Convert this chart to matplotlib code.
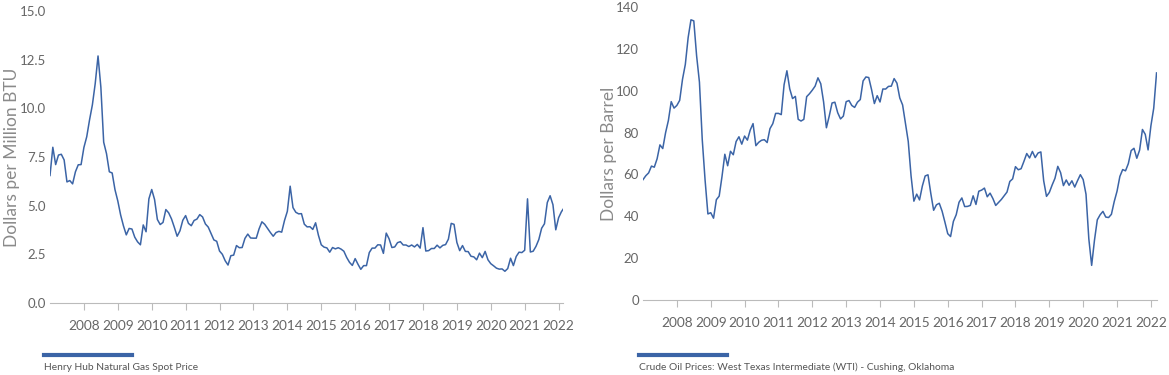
import numpy as np
import matplotlib
matplotlib.use("Agg")
import matplotlib.pyplot as plt

# Henry Hub, $/MMBtu, monthly Jan 2007 - Mar 2022
gas = [6.55, 8.00, 7.11, 7.60, 7.64, 7.35, 6.22, 6.29, 6.12, 6.74, 7.10, 7.11,
       7.99, 8.54, 9.41, 10.18, 11.27, 12.69, 11.09, 8.26, 7.67, 6.74, 6.68, 5.82,
       5.24, 4.52, 3.96, 3.50, 3.83, 3.80, 3.38, 3.14, 2.99, 4.01, 3.66, 5.35,
       5.83, 5.32, 4.29, 4.03, 4.14, 4.80, 4.63, 4.32, 3.89, 3.43, 3.71, 4.25,
       4.49, 4.09, 3.97, 4.24, 4.31, 4.54, 4.42, 4.06, 3.90, 3.57, 3.24, 3.17,
       2.67, 2.50, 2.17, 1.95, 2.43, 2.46, 2.95, 2.84, 2.85, 3.32, 3.54, 3.34,
       3.33, 3.33, 3.81, 4.17, 4.04, 3.83, 3.62, 3.43, 3.62, 3.68, 3.64, 4.24,
       4.71, 6.00, 4.90, 4.66, 4.58, 4.59, 4.05, 3.91, 3.92, 3.78, 4.12, 3.48,
       2.99, 2.87, 2.83, 2.61, 2.85, 2.78, 2.84, 2.77, 2.66, 2.34, 2.09, 1.93,
       2.28, 1.99, 1.73, 1.92, 1.92, 2.59, 2.82, 2.82, 2.99, 2.98, 2.55, 3.59,
       3.30, 2.85, 2.88, 3.10, 3.15, 2.98, 2.98, 2.90, 2.98, 2.88, 3.01, 2.82,
       3.87, 2.67, 2.69, 2.80, 2.80, 2.97, 2.83, 2.96, 3.00, 3.28, 4.09, 4.04,
       3.11, 2.69, 2.95, 2.65, 2.64, 2.40, 2.37, 2.22, 2.56, 2.33, 2.65, 2.22,
       2.02, 1.91, 1.79, 1.74, 1.75, 1.63, 1.77, 2.30, 1.92, 2.39, 2.61, 2.59,
       2.71, 5.35, 2.62, 2.66, 2.91, 3.26, 3.84, 4.07, 5.16, 5.51, 5.05, 3.76,
       4.38, 4.69, 4.90]

# WTI Cushing, $/barrel, monthly Jan 2007 - Mar 2022
oil = [57.5, 59.39, 60.74, 63.98, 63.46, 67.49, 74.12, 72.36, 79.92, 85.80, 94.77, 91.69,
       92.97, 95.39, 105.45, 112.58, 125.40, 133.88, 133.37, 116.67, 104.11, 76.61, 57.31, 41.12,
       41.71, 39.09, 47.94, 49.65, 59.03, 69.64, 64.15, 71.05, 69.41, 75.72, 77.99, 74.47,
       78.33, 76.39, 81.20, 84.29, 73.74, 75.34, 76.32, 76.60, 75.24, 81.89, 84.25, 89.15,
       89.17, 88.58, 102.86, 109.53, 100.90, 96.26, 97.30, 86.33, 85.52, 86.32, 97.16, 98.56,
       100.27, 102.20, 106.16, 103.32, 94.66, 82.30, 87.90, 94.13, 94.51, 89.49, 86.53, 87.86,
       94.76, 95.31, 92.94, 92.02, 94.51, 95.77, 104.67, 106.57, 106.29, 100.54, 93.86, 97.63,
       94.62, 100.82, 100.80, 102.07, 102.18, 105.79, 103.59, 96.54, 93.21, 84.40, 75.79, 59.29,
       47.22, 50.58, 47.82, 54.45, 59.27, 59.82, 50.90, 42.87, 45.48, 46.22, 42.44, 37.19,
       31.68, 30.32, 37.55, 40.75, 46.71, 48.76, 44.65, 44.72, 45.18, 49.78, 45.66, 51.97,
       52.50, 53.47, 49.33, 51.06, 48.48, 45.18, 46.63, 48.04, 49.82, 51.58, 56.64, 57.88,
       63.70, 62.23, 62.73, 66.25, 69.98, 67.87, 70.98, 68.06, 70.23, 70.75, 56.96, 49.52,
       51.38, 54.95, 58.15, 63.86, 60.83, 54.66, 57.35, 54.81, 56.95, 53.96, 57.03, 59.88,
       57.52, 50.54, 29.21, 16.55, 28.56, 38.31, 40.71, 42.34, 39.63, 39.40, 40.94, 47.02,
       52.00, 59.04, 62.33, 61.72, 65.17, 71.38, 72.49, 67.73, 71.65, 81.48, 79.15, 71.71,
       83.22, 91.64, 108.50]

years = list(range(2008, 2023))
gas_label = "Henry Hub Natural Gas Spot Price"
oil_label = "Crude Oil Prices: West Texas Intermediate (WTI) - Cushing, Oklahoma"

LINE = "#3b64a6"
TXT = "#666666"
plt.rcParams['font.family'] = ['Lato', 'DejaVu Sans']

fig = plt.figure(figsize=(11.69, 3.75), dpi=100)


def draw(rect, values, ylim, yticks, yfmt, ylabel, legend, xend, leg_x, label_x):
    ax = fig.add_axes(rect)
    x = 2007 + np.arange(len(values)) / 12.0
    ax.plot(x, values, color=LINE, lw=1.1)
    ax.set_xlim(2007, xend)
    ax.set_ylim(*ylim)
    ax.set_yticks(yticks)
    ax.set_yticklabels([yfmt.format(v) for v in yticks])
    ax.set_xticks(years)
    ax.set_xticklabels([str(y) for y in years])
    for s in ['top', 'right', 'left']:
        ax.spines[s].set_visible(False)
    ax.spines['bottom'].set_color('#bbbbbb')
    ax.tick_params(axis='y', length=0, pad=3, labelsize=9.5, labelcolor=TXT)
    ax.tick_params(axis='x', length=5, color='#bbbbbb', pad=7, labelsize=9.8, labelcolor=TXT)
    ax.set_ylabel(ylabel, fontsize=12.5, color='#8a8a8a')
    # подпись оси ставим вручную, чтобы не обрезалась
    ax.yaxis.set_label_coords(label_x, 0.5)
    # легенда под графиком
    fig.add_artist(plt.Line2D([leg_x, leg_x + 88 / 1169], [1 - 355 / 375] * 2,
                              color=LINE, lw=3, transform=fig.transFigure))
    fig.text(leg_x, 1 - 367 / 375, legend, fontsize=7.4, color='#555555', va='center', ha='left')
    return ax


draw([50 / 1169, 1 - 303 / 375, 513 / 1169, 292 / 375], gas, (0, 15),
     [0, 2.5, 5, 7.5, 10, 12.5, 15], "{:.1f}", "Dollars per Million BTU",
     gas_label, 2022.13, 44 / 1169, -30 / 513)
draw([643 / 1169, 1 - 300 / 375, 514 / 1169, 293 / 375], oil, (0, 140),
     list(range(0, 141, 20)), "{:d}", "Dollars per Barrel",
     oil_label, 2022.18, 639 / 1169, -26 / 514)

fig.savefig("out.png", dpi=100)
